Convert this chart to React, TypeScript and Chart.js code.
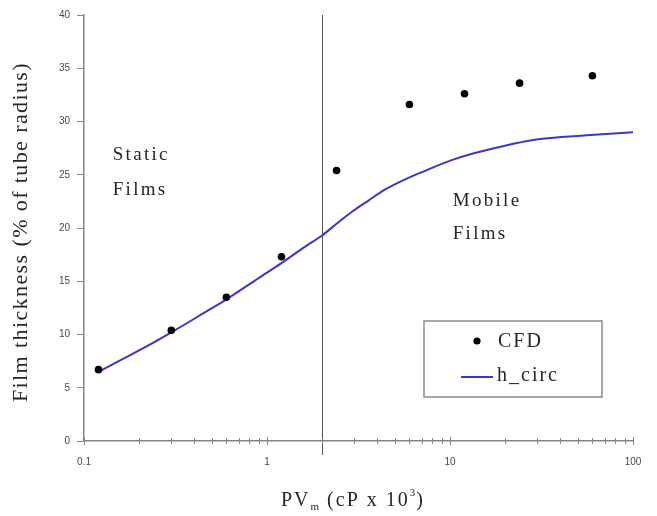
import React, { useEffect, useRef } from 'react';
import { Chart, registerables } from 'chart.js';

Chart.register(...registerables);

// ---- data ----
const cfdX = [0.12, 0.3, 0.6, 1.2, 2.4, 6, 12, 24, 60];
const cfdY = [6.7, 10.4, 13.5, 17.3, 25.4, 31.6, 32.6, 33.6, 34.3];

const hCircX = [0.12, 0.2, 0.3, 0.45, 0.6, 0.9, 1.2, 1.6, 2.0, 2.4, 2.9, 3.6, 4.4, 5.5, 6.8, 10.3, 15.7, 29.6, 55.7, 100];
const hCircY = [6.5, 8.5, 10.2, 12.0, 13.3, 15.3, 16.7, 18.2, 19.3, 20.4, 21.5, 22.6, 23.6, 24.45, 25.15, 26.4, 27.3, 28.3, 28.7, 29.0];

const xMajorTicks = [0.1, 1, 10, 100];
const yTickValues = [0, 5, 10, 15, 20, 25, 30, 35, 40];
const regimeBoundary = 2;

const seriesLabels = ['CFD', 'h_circ'];
const staticLabel = ['Static', 'Films'];
const mobileLabel = ['Mobile', 'Films'];
const yTitle = 'Film thickness (% of tube radius)';
const xTitleMain = 'PV';
const xTitleSub = 'm';
const xTitleMid = ' (cP x 10';
const xTitleSup = '3';
const xTitleEnd = ')';

const LINE_COLOR = '#3838c6';
const TEXT_COLOR = '#262626';
const AXIS_COLOR = '#858585';
const SERIF = '"Liberation Serif", "Times New Roman", serif';
const SANS = '"Liberation Sans", Arial, sans-serif';

function isMajor(v: number) {
  const l = Math.log10(v);
  return Math.abs(l - Math.round(l)) < 1e-6;
}

const overlayPlugin = {
  id: 'overlay',
  beforeDatasetsDraw(chart: any) {
    const { ctx, chartArea, scales } = chart;
    const x = scales.x;
    ctx.save();
    // regime boundary line
    const vx = Math.round(x.getPixelForValue(regimeBoundary)) + 0.5;
    ctx.strokeStyle = '#555';
    ctx.lineWidth = 1;
    ctx.beginPath();
    ctx.moveTo(vx, chartArea.top);
    ctx.lineTo(vx, chartArea.bottom + 14);
    ctx.stroke();
    // x tick marks crossing the axis
    ctx.strokeStyle = AXIS_COLOR;
    ctx.lineWidth = 1;
    for (const t of x.ticks) {
      const px = Math.round(x.getPixelForValue(t.value)) + 0.5;
      const len = isMajor(t.value) ? 4 : 3;
      ctx.beginPath();
      ctx.moveTo(px, chartArea.bottom - len);
      ctx.lineTo(px, chartArea.bottom + len);
      ctx.stroke();
    }
    ctx.restore();
  },
  afterDraw(chart: any) {
    const { ctx, chartArea, scales } = chart;
    const x = scales.x;
    const y = scales.y;
    ctx.save();
    ctx.fillStyle = TEXT_COLOR;
    ctx.textBaseline = 'middle';
    ctx.textAlign = 'left';

    // region annotations
    ctx.font = `19px ${SERIF}`;
    (ctx as any).letterSpacing = '2.3px';
    const sx = x.getPixelForValue(0.1435);
    ctx.fillText(staticLabel[0], sx, y.getPixelForValue(26.85));
    ctx.fillText(staticLabel[1], sx, y.getPixelForValue(23.6));
    const mx = x.getPixelForValue(10.35);
    ctx.fillText(mobileLabel[0], mx, y.getPixelForValue(22.5));
    ctx.fillText(mobileLabel[1], mx, y.getPixelForValue(19.4));

    // legend box
    const bx = chartArea.left + 340;
    const by = 321;
    const bw = 178;
    const bh = 76;
    ctx.strokeStyle = '#8a8a8a';
    ctx.lineWidth = 1.5;
    ctx.strokeRect(bx, by, bw, bh);
    // CFD entry
    ctx.fillStyle = '#000';
    ctx.beginPath();
    ctx.arc(bx + 53, by + 20, 3.6, 0, Math.PI * 2);
    ctx.fill();
    ctx.fillStyle = TEXT_COLOR;
    ctx.font = `20px ${SERIF}`;
    (ctx as any).letterSpacing = '2px';
    ctx.fillText(seriesLabels[0], bx + 74, by + 21);
    // h_circ entry
    ctx.strokeStyle = LINE_COLOR;
    ctx.lineWidth = 2;
    ctx.beginPath();
    ctx.moveTo(bx + 37, by + 56);
    ctx.lineTo(bx + 69, by + 56);
    ctx.stroke();
    ctx.fillText(seriesLabels[1], bx + 73, by + 55);

    // y title
    ctx.save();
    ctx.translate(21, 232);
    ctx.rotate(-Math.PI / 2);
    ctx.textAlign = 'center';
    ctx.font = `22px ${SERIF}`;
    (ctx as any).letterSpacing = '1.4px';
    ctx.fillText(yTitle, 0, 0);
    ctx.restore();

    // x title
    let cx = 281;
    const base = 506;
    ctx.textBaseline = 'alphabetic';
    ctx.textAlign = 'left';
    (ctx as any).letterSpacing = '2px';
    ctx.font = `20px ${SERIF}`;
    ctx.fillText(xTitleMain, cx, base);
    cx += ctx.measureText(xTitleMain).width;
    ctx.font = `11px ${SERIF}`;
    (ctx as any).letterSpacing = '0px';
    ctx.fillText(xTitleSub, cx, base + 4);
    cx += ctx.measureText(xTitleSub).width + 1;
    ctx.font = `20px ${SERIF}`;
    (ctx as any).letterSpacing = '2px';
    ctx.fillText(xTitleMid, cx, base);
    cx += ctx.measureText(xTitleMid).width;
    ctx.font = `11px ${SERIF}`;
    (ctx as any).letterSpacing = '0px';
    ctx.fillText(xTitleSup, cx, base - 10);
    cx += ctx.measureText(xTitleSup).width + 1;
    ctx.font = `20px ${SERIF}`;
    ctx.fillText(xTitleEnd, cx, base);
    ctx.restore();
  },
};

export default function App() {
  const canvasRef = useRef<HTMLCanvasElement | null>(null);

  useEffect(() => {
    const canvas = canvasRef.current;
    if (!canvas) return;
    const chart = new Chart(canvas, {
      type: 'scatter',
      data: {
        datasets: [
          {
            label: seriesLabels[1],
            data: hCircX.map((v, i) => ({ x: v, y: hCircY[i] })),
            showLine: true,
            borderColor: LINE_COLOR,
            borderWidth: 2,
            pointRadius: 0,
            tension: 0.3,
            order: 2,
          },
          {
            label: seriesLabels[0],
            data: cfdX.map((v, i) => ({ x: v, y: cfdY[i] })),
            showLine: false,
            pointRadius: 3.8,
            pointBackgroundColor: '#000',
            pointBorderColor: '#000',
            pointBorderWidth: 0,
            order: 1,
          },
        ],
      },
      options: {
        animation: false,
        responsive: false,
        layout: { padding: { left: 0, top: 15, right: 24, bottom: 0 } },
        plugins: {
          legend: { display: false },
          tooltip: { enabled: false },
        },
        scales: {
          x: {
            type: 'logarithmic',
            min: 0.1,
            max: 100,
            afterBuildTicks: (scale: any) => {
              const ticks: any[] = [];
              for (let d = 0; d < xMajorTicks.length; d++) {
                const m = xMajorTicks[d];
                ticks.push({ value: m, major: true });
                if (d < xMajorTicks.length - 1) {
                  for (let k = 2; k <= 9; k++) ticks.push({ value: m * k, major: false });
                }
              }
              scale.ticks = ticks;
            },
            afterFit: (scale: any) => {
              scale.height = 75;
            },
            grid: { display: true, drawOnChartArea: false, drawTicks: false },
            border: { display: true, color: AXIS_COLOR, width: 1.5 },
            ticks: {
              autoSkip: false,
              maxRotation: 0,
              padding: 15,
              color: '#4a4a4a',
              font: { family: SANS, size: 10 },
              callback: (v: any) => (isMajor(Number(v)) ? String(Number(Number(v).toPrecision(6))) : ''),
            },
          },
          y: {
            type: 'linear',
            min: 0,
            max: 40,
            afterBuildTicks: (scale: any) => {
              scale.ticks = yTickValues.map((v) => ({ value: v }));
            },
            afterFit: (scale: any) => {
              scale.width = 84;
            },
            grid: { display: true, drawOnChartArea: false, drawTicks: true, tickLength: 7, color: AXIS_COLOR },
            border: { display: true, color: AXIS_COLOR, width: 1.5 },
            ticks: {
              padding: 7,
              color: '#4a4a4a',
              font: { family: SANS, size: 10 },
            },
          },
        },
      },
      plugins: [overlayPlugin],
    });
    return () => chart.destroy();
  }, []);

  return (
    <div style={{ position: 'fixed', left: 0, top: 0, width: 657, height: 516, background: '#fff' }}>
      <canvas ref={canvasRef} width={657} height={516} style={{ display: 'block' }} />
    </div>
  );
}
